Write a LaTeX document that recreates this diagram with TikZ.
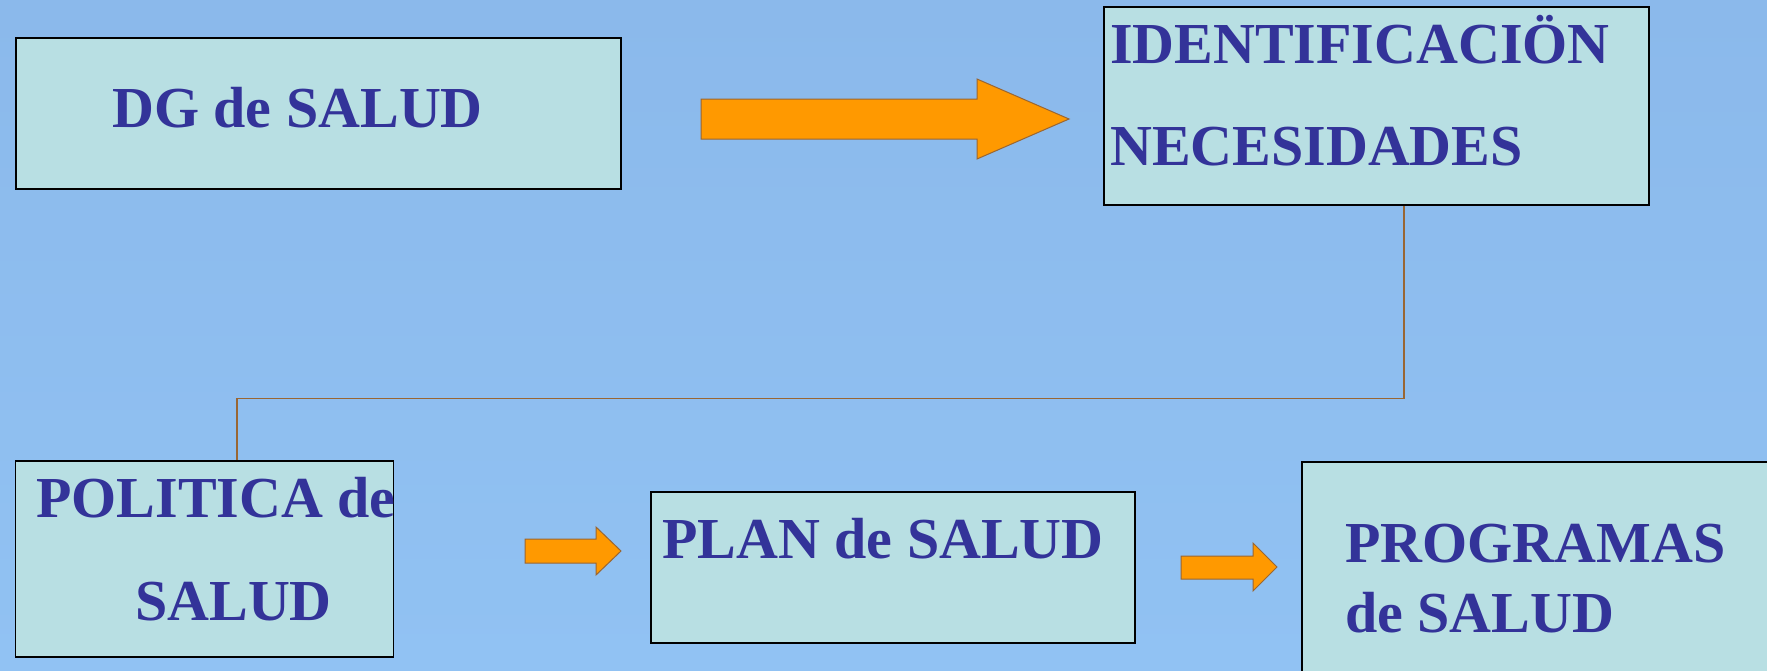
\documentclass[tikz,border=0pt]{standalone}
\usepackage{fontspec}
\setmainfont{Liberation Serif}
\definecolor{bgtop}{RGB}{139,185,235}
\definecolor{bgmid}{RGB}{153,204,255}
\definecolor{bgbot}{RGB}{145,194,243}
\definecolor{boxfill}{RGB}{184,223,227}
\definecolor{txt}{RGB}{51,51,153}
\definecolor{arrfill}{RGB}{255,153,0}
\definecolor{arrline}{RGB}{153,102,51}
\begin{document}
\begin{tikzpicture}[x=1pt,y=-1pt,
  box/.style={draw=black,line width=1.5pt,fill=boxfill,inner sep=0pt},
  lbl/.style={anchor=base west,inner sep=0pt,text=txt,font=\fontsize{58}{60}\selectfont\bfseries},
  blockarrow/.style={fill=arrfill,draw=arrline,line width=1pt,line join=miter},
  conn/.style={draw=arrline,line width=1.3pt}]
\useasboundingbox (0,0) rectangle (1767,670);
\clip (0,0) rectangle (1767,670);
\shade[top color=bgtop,middle color=bgmid,bottom color=bgbot] (0,0) rectangle (1767,670);
% boxes
\node[box,minimum width=605pt,minimum height=151pt] (dg) at (318.5,113.5) {};
\node[box,minimum width=545pt,minimum height=198pt] (ident) at (1376.5,106) {};
\node[box,minimum width=378pt,minimum height=196pt] (pol) at (204.5,559) {};
\node[box,minimum width=484pt,minimum height=151pt] (plan) at (893,567.5) {};
\node[box,minimum width=520pt,minimum height=260pt] (prog) at (1562,592) {};
% connector
\draw[conn] ([xshift=27.5pt]ident.south) |- ([xshift=32.5pt,yshift=62pt]pol.north) -- ([xshift=32.5pt]pol.north);
% block arrows
\draw[blockarrow] (701,99) -- (977,99) -- (977,79) -- (1069,119) -- (977,159) -- (977,139) -- (701,139) -- cycle;
\draw[blockarrow] (525,539) -- (596,539) -- (596,527) -- (621,551) -- (596,575) -- (596,563) -- (525,563) -- cycle;
\draw[blockarrow] (1181,556) -- (1253,556) -- (1253,543) -- (1277,567) -- (1253,591) -- (1253,579) -- (1181,579) -- cycle;
% labels
\node[lbl] (tdg) at (112,127) {DG de SALUD};
\node[lbl] (tid1) at (1110,63) {IDENTIFICACIÖN};
\node[lbl] (tid2) at (1110,165) {NECESIDADES};
\node[lbl] (tpol1) at (36,517) {POLITICA de};
\node[lbl] (tpol2) at (135,620) {SALUD};
\node[lbl] (tplan) at (662,558) {PLAN de SALUD};
\node[lbl] (tprog1) at (1345,562) {PROGRAMAS};
\node[lbl] (tprog2) at (1345,632) {de SALUD};
\end{tikzpicture}
\end{document}
